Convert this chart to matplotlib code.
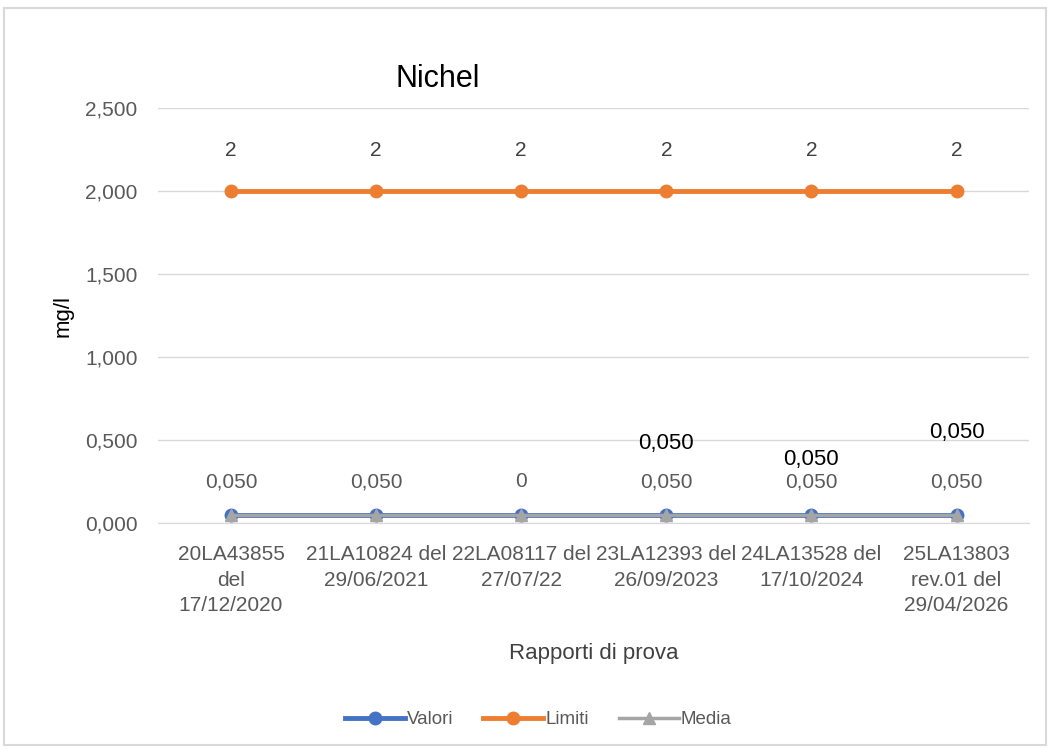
import matplotlib
matplotlib.use('Agg')
import matplotlib.pyplot as plt
from matplotlib.ticker import FuncFormatter
from matplotlib.patches import Rectangle

plt.rcParams['font.family'] = ['Liberation Sans', 'DejaVu Sans']

categories = ["20LA43855\ndel\n17/12/2020", "21LA10824 del\n29/06/2021", "22LA08117 del\n27/07/22",
              "23LA12393 del\n26/09/2023", "24LA13528 del\n17/10/2024", "25LA13803\nrev.01 del\n29/04/2026"]
valori = [0.05, 0.05, 0.05, 0.05, 0.05, 0.05]
limiti = [2, 2, 2, 2, 2, 2]
media = [0.05, 0.05, 0.05, 0.05, 0.05, 0.05]
valori_labels = ["0,050", "0,050", "0", "0,050", "0,050", "0,050"]
limiti_labels = ["2", "2", "2", "2", "2", "2"]
media_labels = ["", "", "", "0,050", "0,050", "0,050"]
media_offsets = [0, 0, 0, 71, 55, 82]  # label offsets in pixels, moved by hand in the original

fig = plt.figure(figsize=(10.49, 7.49), dpi=100)
ax = fig.add_axes([0.151, 0.3017, 0.830, 0.554])

x = list(range(len(categories)))
ax.plot(x, limiti, color='#ED7D31', lw=3.5, marker='o', ms=9, label='Limiti', zorder=3)
ax.plot(x, valori, color='#4472C4', lw=3.5, marker='o', ms=9, label='Valori', zorder=3)
ax.plot(x, media, color='#A5A5A5', lw=2.5, marker='^', ms=8, label='Media', zorder=4)

for xi, v, t in zip(x, limiti, limiti_labels):
    ax.annotate(t, (xi, v), xytext=(0, 41), textcoords='offset pixels', ha='center', va='center',
                fontsize=15, color='#404040')
for xi, v, t in zip(x, valori, valori_labels):
    ax.annotate(t, (xi, v), xytext=(0, 33), textcoords='offset pixels', ha='center', va='center',
                fontsize=15, color='#595959')
for xi, v, t, off in zip(x, media, media_labels, media_offsets):
    if t:
        ax.annotate(t, (xi, v), xytext=(0, off), textcoords='offset pixels', ha='center', va='center',
                    fontsize=16, color='black')

ax.set_xlim(-0.5, len(categories) - 0.5)
ax.set_ylim(0, 2.5)
ax.set_yticks([0, 0.5, 1.0, 1.5, 2.0, 2.5])
ax.yaxis.set_major_formatter(FuncFormatter(lambda v, p: f"{v:.3f}".replace('.', ',')))
ax.set_xticks(x)
ax.set_xticklabels(categories, fontsize=15, color='#595959', linespacing=1.42)
ax.tick_params(axis='y', labelsize=15, labelcolor='#595959', length=0, pad=15)
ax.tick_params(axis='x', length=0, pad=16)
ax.grid(axis='y', color='#D9D9D9', lw=1)
ax.set_axisbelow(True)
for s in ['top', 'right', 'left']:
    ax.spines[s].set_visible(False)
ax.spines['bottom'].set_color('#D9D9D9')

ax.set_ylabel('mg/l', fontsize=16, color='black', labelpad=8)
ax.set_xlabel('Rapporti di prova', fontsize=16, color='#404040', labelpad=20)
fig.text(0.417, 0.895, 'Nichel', fontsize=22, color='black', ha='center', va='center')

handles, labels = ax.get_legend_handles_labels()
order = [1, 0, 2]
fig.legend([handles[i] for i in order], [labels[i] for i in order], loc='center',
           bbox_to_anchor=(0.513, 0.039), ncol=3, frameon=False, fontsize=13.5,
           handlelength=3.2, columnspacing=1.6, handletextpad=0.1, labelcolor='#595959')

fig.patches.append(Rectangle((0.004, 0.005), 0.993, 0.984, transform=fig.transFigure,
                             fill=False, edgecolor='#D9D9D9', lw=1.5))

fig.savefig('out.png', dpi=100)
